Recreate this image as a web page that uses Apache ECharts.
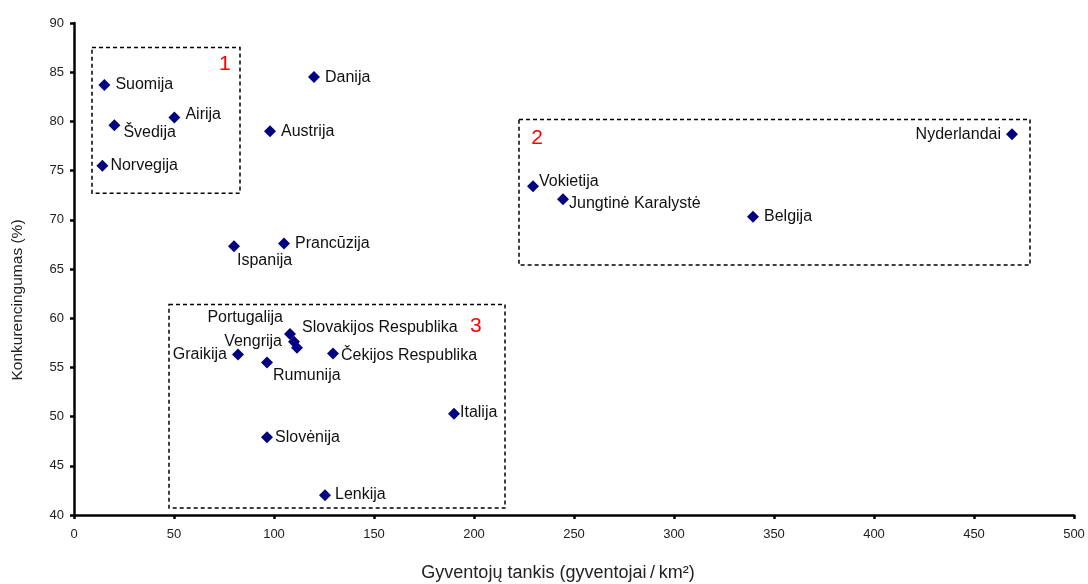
<!DOCTYPE html>
<html><head><meta charset="utf-8">
<script src="https://cdn.jsdelivr.net/npm/echarts@6/dist/echarts.min.js"></script>
<style>html,body{margin:0;padding:0;background:#fff}#c{width:1088px;height:584px}</style>
</head><body><div id="c"></div>
<script>
const countries = ['Suomija','Airija','Švedija','Norvegija','Danija','Austrija','Nyderlandai','Vokietija','Jungtinė Karalystė','Belgija','Ispanija','Prancūzija','Portugalija','Slovakijos Respublika','Vengrija','Graikija','Rumunija','Čekijos Respublika','Italija','Slovėnija','Lenkija'];
const density = [15.2, 50.2, 20.2, 14.2, 120, 98, 469, 229.5, 244.5, 339.5, 80, 105, 110, 108, 111.5, 82, 96.5, 129.5, 190, 96.5, 125.5];
const competitiveness = [83.7, 80.4, 79.6, 75.5, 84.5, 79.0, 78.7, 73.4, 72.1, 70.3, 67.3, 67.6, 57.6, 58.4, 57.0, 56.3, 55.5, 56.4, 50.3, 47.9, 42.0];
const xTicks = [0,50,100,150,200,250,300,350,400,450,500];
const yTicks = [40,45,50,55,60,65,70,75,80,85,90];
const xTitle = 'Gyventojų tankis (gyventojai\u2009/\u2009km²)';
const yTitle = 'Konkurencingumas (%)';
const groupNames = ['1','2','3'];
const groupX = [[9,83],[222.5,478],[47.5,215.5]];
const groupY = [[72.7,87.5],[65.4,80.2],[40.7,61.4]];

// label placement (style only)
const labelStyle = {
  'Suomija':{position:'right'},
  'Airija':{position:'right',offset:[0,-3]},
  'Švedija':{position:'right',offset:[-2,7]},
  'Norvegija':{position:'right',offset:[-3,0]},
  'Danija':{position:'right'},
  'Austrija':{position:'right'},
  'Nyderlandai':{position:'left'},
  'Vokietija':{position:'right',offset:[-5,-5]},
  'Jungtinė Karalystė':{position:'right',offset:[-5,4]},
  'Belgija':{position:'right'},
  'Ispanija':{position:'right',offset:[-8,14]},
  'Prancūzija':{position:'right'},
  'Portugalija':{position:'left',offset:[0,-24]},
  'Slovakijos Respublika':{position:'right',offset:[1,-6]},
  'Vengrija':{position:'left',offset:[-4,-6]},
  'Graikija':{position:'left'},
  'Rumunija':{position:'right',offset:[-5,13]},
  'Čekijos Respublika':{position:'right',offset:[-3,2]},
  'Italija':{position:'right',offset:[-5,-1]},
  'Slovėnija':{position:'right',offset:[-3,0]},
  'Lenkija':{position:'right',offset:[-1,-1]}
};
const boxLabelStyle = [
  {position:'insideTopRight', offset:[-5,2]},
  {position:'insideTopLeft', offset:[8,4]},
  {position:'insideTopRight', offset:[-19,7]}
];

const data = countries.map((n,i)=>({
  name:n, value:[density[i], competitiveness[i]],
  label:Object.assign({show:true, formatter:'{b}'}, labelStyle[n])
}));

const font = 'Liberation Sans, Arial, sans-serif';
const chart = echarts.init(document.getElementById('c'));
chart.setOption({
  animation:false,
  grid:{left:74, right:14, top:23, bottom:69},
  graphic:[
    {type:'text', x:558, y:573, style:{text:xTitle, fill:'#222', font:'18px '+font, align:'center', verticalAlign:'middle'}},
    {type:'text', x:18, y:300, rotation:Math.PI/2, style:{text:yTitle, fill:'#222', font:'15.5px '+font, align:'center', verticalAlign:'middle'}}
  ],
  xAxis:{type:'value', min:0, max:500, interval:50,
    axisLine:{lineStyle:{color:'#000', width:2.5}},
    axisTick:{show:true, length:4, lineStyle:{color:'#000', width:2.5}},
    axisLabel:{color:'#222', fontSize:13, fontFamily:font, margin:13,
      formatter:v=>xTicks.includes(v)?String(v):''},
    splitLine:{show:false}},
  yAxis:{type:'value', min:40, max:90, interval:5,
    axisLine:{show:true, lineStyle:{color:'#000', width:2.5}},
    axisTick:{show:true, length:4, lineStyle:{color:'#000', width:2.5}},
    axisLabel:{color:'#222', fontSize:13, fontFamily:font, margin:10,
      formatter:v=>yTicks.includes(v)?String(v):''},
    splitLine:{show:false}},
  series:[{
    type:'scatter', symbol:'diamond', symbolSize:12,
    itemStyle:{color:'#000080', opacity:1},
    label:{color:'#111', fontSize:16, fontFamily:font, distance:5},
    data:data,
    markArea:{silent:true,
      itemStyle:{color:'rgba(0,0,0,0)', borderColor:'#000', borderWidth:1.5, borderType:[4,3]},
      label:{color:'#ff0000', fontSize:21, fontFamily:font},
      data:groupNames.map((g,i)=>[
        {name:g, coord:[groupX[i][0], groupY[i][1]], label:boxLabelStyle[i]},
        {coord:[groupX[i][1], groupY[i][0]]}
      ])
    }
  }]
});
</script></body></html>
